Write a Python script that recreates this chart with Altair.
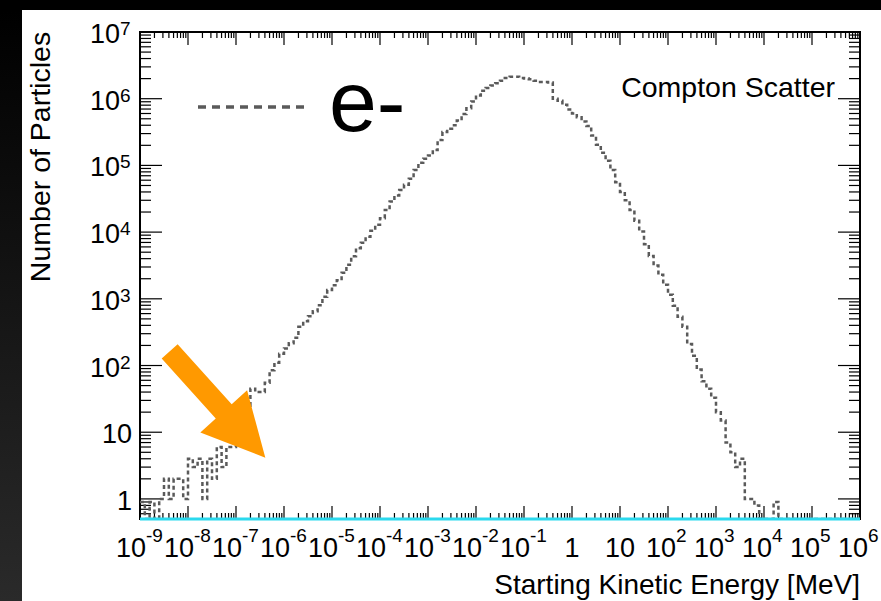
import altair as alt
import pandas as pd

# ---------------- data ----------------
# histogram of e- starting kinetic energy, 150 log bins of 0.1 decade from 1e-9 MeV
bin_start_exp = -9.0
bin_step_dec = 0.1
counts = [0.9, 0, 0.9, 0, 1, 2, 1, 2, 2, 1,
          4, 3, 4, 1, 4, 2, 6, 3, 6, 6,
          7, 10, 25, 45, 40, 40, 55, 85, 110, 150,
          180, 215, 260, 380, 460, 550, 650, 800, 1070, 1350,
          1600, 1900, 2450, 3250, 4350, 5750, 6900, 8500, 10500, 12900,
          16200, 21400, 28800, 35500, 42700, 51300, 63000, 85000, 110000, 126000,
          141000, 170000, 240000, 316000, 355000, 400000, 470000, 590000, 720000, 910000,
          1120000, 1320000, 1450000, 1580000, 1700000, 1860000, 2040000, 2140000, 2140000, 2040000,
          2000000, 1950000, 1860000, 1780000, 1780000, 1750000, 1000000, 930000, 810000, 690000,
          600000, 525000, 457000, 390000, 280000, 204000, 155000, 117000, 85000, 56000,
          40000, 30000, 21400, 14800, 10200, 6600, 4400, 3160, 2290, 1620,
          1150, 790, 540, 380, 210, 140, 87, 58, 45, 33,
          20, 15, 7, 5, 3, 4, 1, 1, 0.8, 0,
          0, 0, 0.9, 0, 0, 0, 0, 0, 0, 0,
          0, 0, 0, 0, 0, 0, 0, 0, 0, 0]

x_label_exps = [-9, -8, -7, -6, -5, -4, -3, -2, -1, 0, 1, 2, 3, 4, 5, 6]
x_label_base = ["10", "10", "10", "10", "10", "10", "10", "10", "10", "1", "10", "10", "10", "10", "10", "10"]
x_label_sup = ["-9", "-8", "-7", "-6", "-5", "-4", "-3", "-2", "-1", "", "", "2", "3", "4", "5", "6"]

y_label_exps = [0, 1, 2, 3, 4, 5, 6, 7]
y_label_base = ["1", "10", "10", "10", "10", "10", "10", "10"]
y_label_sup = ["", "", "2", "3", "4", "5", "6", "7"]

x_title = "Starting Kinetic Energy [MeV]"
y_title = "Number of Particles"
plot_label = "Compton Scatter"
legend_label = "e-"

# ---------------- layout ----------------
W, H = 720, 487
FONT = "Liberation Sans"
Y_MIN = 0.5

xs = alt.Scale(type="log", domain=[1e-9, 1e6], nice=False)
ys = alt.Scale(type="log", domain=[Y_MIN, 1e7], nice=False)

edges = [10 ** (bin_start_exp + bin_step_dec * i) for i in range(len(counts) + 1)]
plot_counts = [max(c, Y_MIN) for c in counts]
hist = pd.DataFrame({"E": edges, "N": plot_counts + [plot_counts[-1]]})

one = pd.DataFrame({"a": [0]})

# background: black frame with a white page
bg_white = alt.Chart(one).mark_rect(color="white").encode(
    x=alt.value(-118), x2=alt.value(741), y=alt.value(-22), y2=alt.value(569))
bg_left = alt.Chart(one).mark_rect(
    fill={"gradient": "linear", "x1": 0, "x2": 0, "y1": 0, "y2": 1,
          "stops": [{"offset": 0, "color": "#000000"}, {"offset": 1, "color": "#2a2a2a"}]}
).encode(x=alt.value(-140), x2=alt.value(-118), y=alt.value(-22), y2=alt.value(569))

# ticks
x_major_vals = [10.0 ** e for e in x_label_exps]
x_minor_vals = [k * 10.0 ** d for d in range(-9, 6) for k in range(2, 10)]
y_major_vals = [10.0 ** e for e in y_label_exps]
y_minor_vals = [k * 0.1 for k in range(6, 10)] + [k * 10.0 ** d for d in range(0, 7) for k in range(2, 10)]


def xticks(vals, length):
    df = pd.DataFrame({"v": vals})
    base = alt.Chart(df).mark_rule(color="black", strokeWidth=1.2)
    xenc = alt.X("v:Q", scale=xs, axis=None)
    return [base.encode(x=xenc, y=alt.value(H), y2=alt.value(H - length)),
            base.encode(x=xenc, y=alt.value(0), y2=alt.value(length))]


def yticks(vals, length):
    df = pd.DataFrame({"v": vals})
    base = alt.Chart(df).mark_rule(color="black", strokeWidth=1.2)
    yenc = alt.Y("v:Q", scale=ys, axis=None)
    return [base.encode(y=yenc, x=alt.value(0), x2=alt.value(length)),
            base.encode(y=yenc, x=alt.value(W), x2=alt.value(W - length))]


ticks = xticks(x_major_vals, 13) + xticks(x_minor_vals, 6) + yticks(y_major_vals, 22) + yticks(y_minor_vals, 11)

frame = alt.Chart(one).mark_rect(fillOpacity=0, stroke="black", strokeWidth=2).encode(
    x=alt.value(0), x2=alt.value(W), y=alt.value(0), y2=alt.value(H))

line = alt.Chart(hist).mark_line(
    interpolate="step-after", color="#5a5a5a", strokeWidth=2.5, strokeDash=[4, 3], clip=True
).encode(x=alt.X("E:Q", scale=xs, axis=None), y=alt.Y("N:Q", scale=ys, axis=None))

cyan = alt.Chart(pd.DataFrame({"x1": [1e-9], "x2": [1e6], "y": [Y_MIN]})).mark_rule(
    color="#2BD9EE", strokeWidth=3
).encode(x=alt.X("x1:Q", scale=xs, axis=None), x2="x2:Q", y=alt.Y("y:Q", scale=ys, axis=None))

arrow_path = "M-1,-0.15L0.13,-0.15L0.13,-0.44L1,0L0.13,0.44L0.13,0.15L-1,0.15Z"
arrow = alt.Chart(one).mark_point(
    shape=arrow_path, size=143 * 143, angle=48, filled=True, color="#FF9900", opacity=1, strokeWidth=0
).encode(x=alt.value(77.5), y=alt.value(372.5))

# axis labels
kinds = ["neg" if s.startswith("-") else ("pos" if s else "plain") for s in x_label_sup]
df_xl = pd.DataFrame({"v": x_major_vals, "base": x_label_base, "sup": x_label_sup, "kind": kinds})
ykinds = ["sup" if s else "plain" for s in y_label_sup]
df_yl = pd.DataFrame({"v": y_major_vals, "base": y_label_base, "sup": y_label_sup, "kind": ykinds})

BASE_FS = 27
SUP_FS = 19
xenc = alt.X("v:Q", scale=xs, axis=None)
yenc = alt.Y("v:Q", scale=ys, axis=None)

xl = []
for kind, dx in [("neg", 6), ("pos", 8)]:
    c = alt.Chart(df_xl).transform_filter(f"datum.kind == '{kind}'")
    xl.append(c.mark_text(align="right", baseline="alphabetic", dx=dx, font=FONT, fontSize=BASE_FS, color="black")
              .encode(x=xenc, y=alt.value(525), text="base:N"))
    xl.append(c.mark_text(align="left", baseline="alphabetic", dx=dx, font=FONT, fontSize=SUP_FS, color="black")
              .encode(x=xenc, y=alt.value(510), text="sup:N"))
xl.append(alt.Chart(df_xl).transform_filter("datum.kind == 'plain'")
          .mark_text(align="center", baseline="alphabetic", font=FONT, fontSize=BASE_FS, color="black")
          .encode(x=xenc, y=alt.value(525), text="base:N"))

yl = [
    alt.Chart(df_yl).transform_filter("datum.kind == 'sup'")
    .mark_text(align="right", baseline="alphabetic", dy=11, font=FONT, fontSize=BASE_FS, color="black")
    .encode(y=yenc, x=alt.value(-20), text="base:N"),
    alt.Chart(df_yl).transform_filter("datum.kind == 'sup'")
    .mark_text(align="left", baseline="alphabetic", dy=3, font=FONT, fontSize=SUP_FS, color="black")
    .encode(y=yenc, x=alt.value(-20), text="sup:N"),
    alt.Chart(df_yl).transform_filter("datum.kind == 'plain'")
    .mark_text(align="right", baseline="alphabetic", dy=11, font=FONT, fontSize=BASE_FS, color="black")
    .encode(y=yenc, x=alt.value(-8), text="base:N"),
]

titles = [
    alt.Chart(pd.DataFrame({"t": [x_title]})).mark_text(
        align="right", baseline="alphabetic", font=FONT, fontSize=28, color="black"
    ).encode(x=alt.value(W), y=alt.value(562), text="t:N"),
    alt.Chart(pd.DataFrame({"t": [y_title]})).mark_text(
        align="center", baseline="alphabetic", angle=270, font=FONT, fontSize=28.5, color="black"
    ).encode(x=alt.value(-90), y=alt.value(125), text="t:N"),
    alt.Chart(pd.DataFrame({"t": [plot_label]})).mark_text(
        align="right", baseline="alphabetic", font=FONT, fontSize=28.5, color="black"
    ).encode(x=alt.value(695), y=alt.value(65), text="t:N"),
    alt.Chart(pd.DataFrame({"t": [legend_label]})).mark_text(
        align="left", baseline="alphabetic", font=FONT, fontSize=86, color="black"
    ).encode(x=alt.value(189), y=alt.value(99), text="t:N"),
]

legend_line = alt.Chart(one).mark_rule(color="#5a5a5a", strokeWidth=3.5, strokeDash=[8, 6]).encode(
    x=alt.value(58), x2=alt.value(165), y=alt.value(75))

chart = alt.layer(
    bg_white, bg_left, *ticks, frame, line, cyan, arrow, *xl, *yl, *titles, legend_line
).properties(
    width=W, height=H,
    padding={"left": 140, "top": 32, "right": 21, "bottom": 82},
    autosize=alt.AutoSizeParams(type="none"),
    background="#000000",
).configure_view(stroke=None)

chart.save("out.html", embed_options={"renderer": "svg", "actions": False})
